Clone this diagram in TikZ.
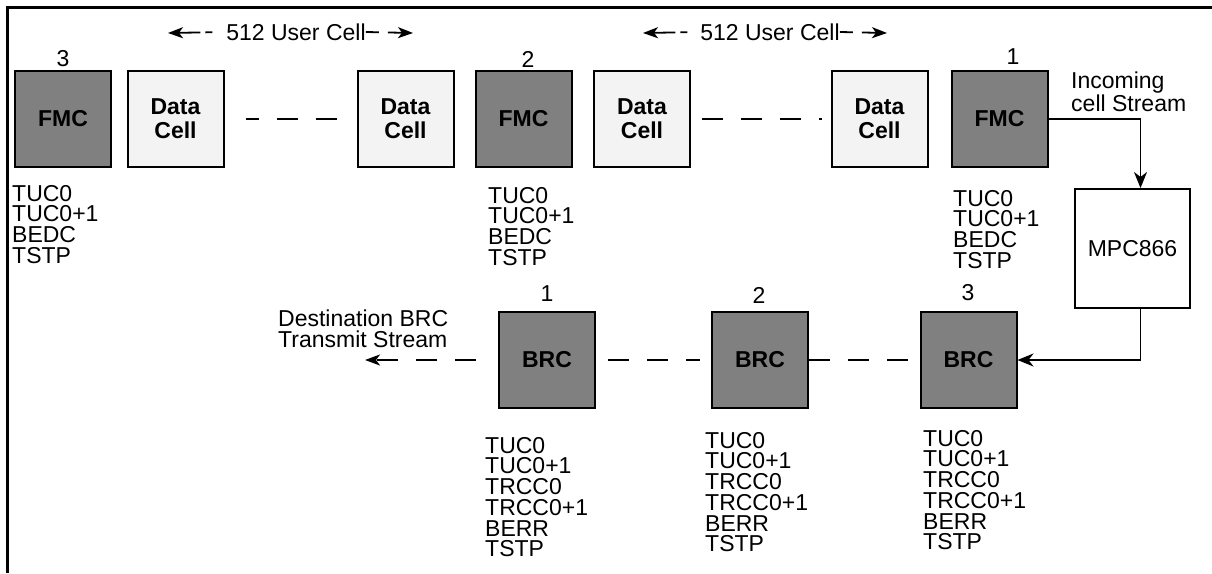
\documentclass[tikz,border=0pt]{standalone}
\usepackage{fontspec}
\setmainfont{Liberation Sans}
\usetikzlibrary{arrows.meta}
\definecolor{boxgray}{RGB}{128,128,128}
\definecolor{cellfill}{RGB}{243,243,243}
\begin{document}
\begin{tikzpicture}[x=1pt,y=-1pt,
  every node/.style={inner sep=0pt, font=\fontsize{23}{20.7}\selectfont},
  darkbox/.style={draw, line width=2pt, fill=boxgray, minimum width=96pt, minimum height=96pt, align=center, font=\bfseries\fontsize{23}{24}\selectfont},
  lightbox/.style={darkbox, fill=cellfill},
  plainbox/.style={draw, line width=2pt, fill=white, minimum width=115pt, minimum height=119pt},
  list/.style={anchor=north west, align=left},
  dashline/.style={line width=1.8pt, dash pattern=on 21pt off 18pt},
  conn/.style={line width=1.8pt},
  bigtip/.style={-{Stealth[length=16pt,width=13pt,inset=5pt]}},
  leftarr/.style={{Stealth[length=15pt,width=11pt,inset=4pt]}-},
  rightarr/.style={-{Stealth[length=15pt,width=11pt,inset=4pt]}},
  ]
\useasboundingbox (0,0) rectangle (1212,573);
% frame
\draw[line width=3pt] (7,573) -- (7,7) -- (1212,7);

% top row
\node[darkbox]  (fmc3) at (63,119)    {FMC};
\node[lightbox] (dc1)  at (175.5,119) {Data\\Cell};
\node[lightbox] (dc2)  at (405.5,119) {Data\\Cell};
\node[darkbox]  (fmc2) at (523.5,119) {FMC};
\node[lightbox] (dc3)  at (642,119)   {Data\\Cell};
\node[lightbox] (dc4)  at (879.5,119) {Data\\Cell};
\node[darkbox]  (fmc1) at (999.5,119) {FMC};

\node (n3) at (63,59) {3};
\node (n2) at (528,59) {2};
\node (n1) at (1013,57) {1};

\draw[dashline, dash phase=8pt, shorten <=21pt, shorten >=12pt] (dc1) -- (dc2);
\draw[dashline, shorten <=11pt, shorten >=9pt] (dc3) -- (dc4);

% 512 user cell
\node (uc1) at (296,32) {512 User Cell};
\coordinate (uc1l) at (168,33);
\coordinate (uc1r) at (413,33);
\draw[conn, leftarr, dash pattern=on 22pt off 5pt on 7pt off 30pt] (uc1l) -- (uc1.west);
\draw[conn, rightarr, dash pattern=on 13pt off 9pt on 60pt] (uc1.east) -- (uc1r);

\node (uc2) at (770,32) {512 User Cell};
\coordinate (uc2l) at (643,33);
\coordinate (uc2r) at (887,33);
\draw[conn, leftarr, dash pattern=on 22pt off 5pt on 7pt off 30pt] (uc2l) -- (uc2.west);
\draw[conn, rightarr, dash pattern=on 13pt off 9pt on 60pt] (uc2.east) -- (uc2r);

% lists under FMC
\node[list] (l3) at (12,185) {TUC0\\TUC0+1\\BEDC\\TSTP};
\node[list] (l2) at (488,187) {TUC0\\TUC0+1\\BEDC\\TSTP};
\node[list] (l1) at (953,190) {TUC0\\TUC0+1\\BEDC\\TSTP};

% incoming
\node[list, font=\fontsize{23}{19.5}\selectfont] (inc) at (1071,72) {Incoming\\cell Stream};
\node[plainbox] (mpc) at (1132.5,248.5) {MPC866};
\draw[conn, bigtip] (fmc1.east) -| ([xshift=8pt]mpc.north);

% bottom row
\node[darkbox] (brc1) at (547,360)   {BRC};
\node[darkbox] (brc2) at (760,360)   {BRC};
\node[darkbox] (brc3) at (968.5,360) {BRC};
\node (b1) at (547,294) {1};
\node (b2) at (759,295) {2};
\node (b3) at (968,293) {3};

\draw[conn, bigtip] ([xshift=8pt]mpc.south) |- (brc3.east);
\draw[dashline, shorten >=3pt] (brc2) -- (brc3);
\draw[dashline, shorten <=12pt, shorten >=11pt] (brc1) -- (brc2);

\node[list] (dest) at (278,310) {Destination BRC\\Transmit Stream};
\coordinate (destend) at (365,360);
\draw[dashline, -{Stealth[length=15pt,width=11pt,inset=4pt]}, shorten <=22pt] (brc1) -- (destend);

\node[list] (bl1) at (485,437) {TUC0\\TUC0+1\\TRCC0\\TRCC0+1\\BERR\\TSTP};
\node[list] (bl2) at (705,432) {TUC0\\TUC0+1\\TRCC0\\TRCC0+1\\BERR\\TSTP};
\node[list] (bl3) at (923,430) {TUC0\\TUC0+1\\TRCC0\\TRCC0+1\\BERR\\TSTP};
\end{tikzpicture}
\end{document}
